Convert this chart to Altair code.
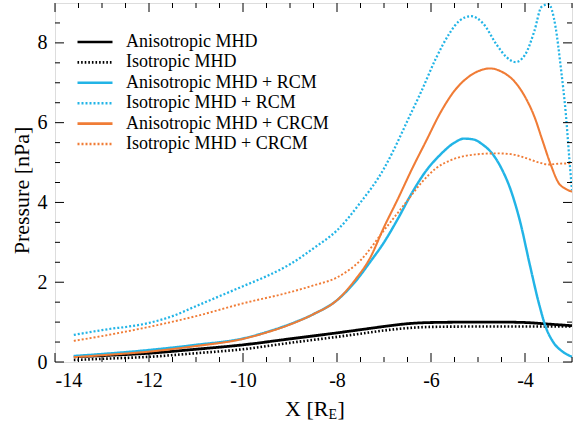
import altair as alt
import pandas as pd

# ---- data ----
series_names = [
    "Anisotropic MHD",
    "Isotropic MHD",
    "Anisotropic MHD + RCM",
    "Isotropic MHD + RCM",
    "Anisotropic MHD + CRCM",
    "Isotropic MHD + CRCM",
]

aniso_mhd_x = [-13.6, -13, -12, -11, -10, -9, -8, -7.5, -7, -6.5, -6, -5, -4.5, -4, -3.5, -3]
aniso_mhd_y = [0.13, 0.16, 0.22, 0.32, 0.43, 0.58, 0.73, 0.81, 0.89, 0.96, 0.99, 1.0, 1.0, 0.99, 0.95, 0.91]

iso_mhd_x = [-13.6, -13, -12, -11, -10, -9, -8, -7.5, -7, -6.5, -6, -5, -4.5, -4, -3.5, -3]
iso_mhd_y = [0.05, 0.08, 0.13, 0.22, 0.32, 0.48, 0.63, 0.71, 0.79, 0.85, 0.88, 0.89, 0.89, 0.89, 0.89, 0.89]

aniso_rcm_x = [-13.6, -13, -12, -11, -10, -9.5, -9, -8.5, -8, -7.6, -7.3, -7.0, -6.7, -6.4, -6.1,
               -5.8, -5.5, -5.3, -5.1, -4.9, -4.7, -4.5, -4.3, -4.1, -3.9, -3.7, -3.55, -3.4, -3.2, -3.0]
aniso_rcm_y = [0.15, 0.2, 0.3, 0.43, 0.59, 0.75, 0.95, 1.2, 1.55, 2.03, 2.5, 3.0, 3.6, 4.25, 4.8,
               5.2, 5.5, 5.6, 5.58, 5.45, 5.23, 4.85, 4.3, 3.5, 2.45, 1.45, 0.85, 0.5, 0.26, 0.13]

iso_rcm_x = [-13.6, -13, -12, -11.5, -11, -10.5, -10, -9.5, -9, -8.5, -8, -7.5, -7.0, -6.8, -6.5,
             -6.2, -5.9, -5.6, -5.4, -5.15, -4.9, -4.6, -4.4, -4.2, -4.0, -3.8, -3.65, -3.5, -3.35,
             -3.24, -3.13, -3.05, -3.0]
iso_rcm_y = [0.68, 0.8, 0.98, 1.15, 1.4, 1.65, 1.9, 2.15, 2.45, 2.85, 3.3, 4.0, 4.85, 5.3, 6.05,
             6.8, 7.6, 8.25, 8.55, 8.67, 8.5, 7.95, 7.65, 7.52, 7.7, 8.3, 8.9, 8.97, 8.4,
             7.4, 6.2, 5.0, 4.3]

aniso_crcm_x = [-13.6, -13, -12, -11, -10, -9.5, -9, -8.5, -8, -7.6, -7.3, -7.0, -6.7, -6.4, -6.1,
                -5.8, -5.5, -5.2, -4.9, -4.75, -4.5, -4.2, -4.0, -3.8, -3.63, -3.45, -3.28, -3.15, -3.0]
aniso_crcm_y = [0.12, 0.17, 0.26, 0.4, 0.58, 0.74, 0.94, 1.2, 1.55, 2.08, 2.6, 3.38, 4.1, 4.85, 5.55,
                6.25, 6.8, 7.15, 7.33, 7.36, 7.28, 7.0, 6.65, 6.15, 5.56, 4.94, 4.48, 4.35, 4.27]

iso_crcm_x = [-13.6, -13, -12, -11, -10, -9, -8.5, -8, -7.5, -7.0, -6.5, -6.2, -5.9, -5.6, -5.3,
              -5.0, -4.6, -4.3, -4.0, -3.7, -3.5, -3.3, -3.0]
iso_crcm_y = [0.53, 0.65, 0.88, 1.15, 1.47, 1.75, 1.92, 2.12, 2.55, 3.3, 4.05, 4.5, 4.85, 5.05, 5.16,
              5.21, 5.23, 5.21, 5.12, 5.0, 4.95, 4.97, 4.98]

x_major_ticks = [-14, -12, -10, -8, -6, -4]
x_minor_ticks = [-13.5, -13, -12.5, -11.5, -11, -10.5, -9.5, -9, -8.5, -7.5, -7, -6.5,
                 -5.5, -5, -4.5, -3.5, -3]
y_major_ticks = [0, 2, 4, 6, 8]
y_minor_ticks = [0.5, 1, 1.5, 2.5, 3, 3.5, 4.5, 5, 5.5, 6.5, 7, 7.5, 8.5]

colors = ["#000000", "#000000", "#22b4e6", "#22b4e6", "#f07c36", "#f07c36"]
dashes = [[1, 0], [1.6, 2], [1, 0], [2, 2], [1, 0], [2, 2]]
widths = [2.8, 1.9, 2.6, 2.2, 2.6, 2.2]

# ---- build table ----
xs = [aniso_mhd_x, iso_mhd_x, aniso_rcm_x, iso_rcm_x, aniso_crcm_x, iso_crcm_x]
ys = [aniso_mhd_y, iso_mhd_y, aniso_rcm_y, iso_rcm_y, aniso_crcm_y, iso_crcm_y]
rows = []
for name, xv, yv in zip(series_names, xs, ys):
    for a, b in zip(xv, yv):
        rows.append({"series": name, "x": a, "p": b})
df = pd.DataFrame(rows)

W, H = 517, 359
FONT = "Liberation Serif"

xscale = alt.Scale(domain=[-14, -3], nice=False, zero=False)
yscale = alt.Scale(domain=[0, 9], nice=False)

lines = alt.Chart(df).mark_line(interpolate="monotone", clip=True).encode(
    x=alt.X("x:Q", scale=xscale,
            axis=alt.Axis(values=x_major_ticks, ticks=False, domain=False, grid=False,
                          labelFont=FONT, labelFontSize=20, labelColor="black",
                          labelPadding=8, labelExpr="'' + datum.value", title=None)),
    y=alt.Y("p:Q", scale=yscale,
            axis=alt.Axis(values=y_major_ticks, ticks=False, domain=False, grid=False,
                          labelFont=FONT, labelFontSize=20, labelColor="black",
                          labelPadding=8, title="Pressure [nPa]", titleFont=FONT,
                          titleFontSize=22, titleFontWeight="normal", titleColor="black",
                          titleX=-34, titleY=187, titleAngle=-90,
                          titleAlign="center", titleBaseline="middle")),
    color=alt.Color("series:N", scale=alt.Scale(domain=series_names, range=colors),
                    title=None,
                    legend=alt.Legend(orient="none", legendX=21, legendY=30,
                                      symbolType="stroke", symbolSize=1225,
                                      symbolStrokeWidth=2.6, labelFont=FONT,
                                      labelFontSize=18, labelColor="black", labelLimit=400,
                                      labelOffset=12, clipHeight=18, rowPadding=2.4,
                                      padding=0)),
    strokeDash=alt.StrokeDash("series:N", scale=alt.Scale(domain=series_names, range=dashes),
                              title=None),
    strokeWidth=alt.StrokeWidth("series:N", scale=alt.Scale(domain=series_names, range=widths),
                                legend=None),
    order=alt.Order("x:Q"),
)

def ticks(values, axis, side, length):
    d = pd.DataFrame({"v": values})
    c = alt.Chart(d).mark_rule(color="black", strokeWidth=1)
    if axis == "x":
        if side == "bottom":
            return c.encode(x=alt.X("v:Q", scale=xscale), y=alt.value(H), y2=alt.value(H - length))
        return c.encode(x=alt.X("v:Q", scale=xscale), y=alt.value(0), y2=alt.value(length))
    if side == "left":
        return c.encode(y=alt.Y("v:Q", scale=yscale), x=alt.value(0), x2=alt.value(length))
    return c.encode(y=alt.Y("v:Q", scale=yscale), x=alt.value(W), x2=alt.value(W - length))

tick_layers = []
for side in ["bottom", "top"]:
    tick_layers.append(ticks(x_major_ticks, "x", side, 9))
    tick_layers.append(ticks(x_minor_ticks, "x", side, 5))
for side in ["left", "right"]:
    tick_layers.append(ticks(y_major_ticks, "y", side, 9))
    tick_layers.append(ticks(y_minor_ticks, "y", side, 5))

title_parts = pd.DataFrame({"t": ["X [R", "E", "]"]})
t1 = alt.Chart(title_parts.iloc[[0]]).mark_text(font=FONT, fontSize=22, align="left",
                                                baseline="alphabetic", color="black").encode(
    text="t:N", x=alt.value(230), y=alt.value(413))
t2 = alt.Chart(title_parts.iloc[[1]]).mark_text(font=FONT, fontSize=14, align="left",
                                                baseline="alphabetic", color="black").encode(
    text="t:N", x=alt.value(273.5), y=alt.value(416))
t3 = alt.Chart(title_parts.iloc[[2]]).mark_text(font=FONT, fontSize=22, align="left",
                                                baseline="alphabetic", color="black").encode(
    text="t:N", x=alt.value(282.5), y=alt.value(413))

chart = alt.layer(lines, *tick_layers, t1, t2, t3).resolve_scale(
    color="independent", strokeDash="independent"
).properties(
    width=W, height=H,
    autosize=alt.AutoSizeParams(type="none"),
    padding={"left": 55, "top": 3, "right": 1, "bottom": 60},
).configure_view(stroke="black", strokeWidth=1.2).configure(background="white")

chart.save("out.html", embed_options={"renderer": "svg", "actions": False})
